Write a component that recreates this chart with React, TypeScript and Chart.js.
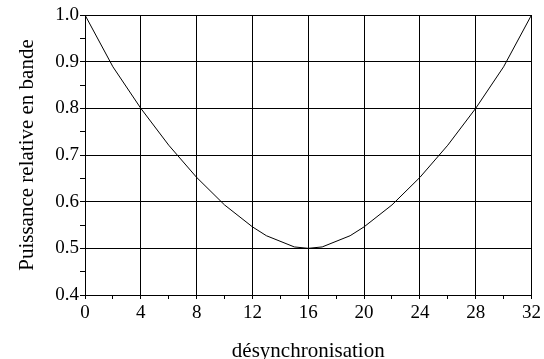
import React, { useEffect, useRef } from "react";
import { Chart, registerables } from "chart.js";

Chart.register(...registerables);

// Desynchronisation values (x) and relative in-band power (y)
const desync = [0, 2, 4, 6, 8, 10, 12, 13, 15, 16, 17, 19, 20, 22, 24, 26, 28, 30, 32];
const power = [1.0, 0.889, 0.8, 0.721, 0.652, 0.593, 0.546, 0.527, 0.503, 0.5, 0.503, 0.527, 0.546, 0.593, 0.652, 0.721, 0.8, 0.889, 1.0];

const xTickLabels = ["0", "4", "8", "12", "16", "20", "24", "28", "32"];
const yTickLabels = ["0.4", "0.5", "0.6", "0.7", "0.8", "0.9", "1.0"];

const xTitle = "désynchronisation";
const yTitle = "Puissance relative en bande";

const FONT = "'Liberation Serif', 'Times New Roman', serif";

export default function App() {
  const canvasRef = useRef<HTMLCanvasElement | null>(null);

  useEffect(() => {
    const canvas = canvasRef.current;
    if (!canvas) return;

    const isMajor = (v: number, step: number) => Math.abs(v / step - Math.round(v / step)) < 1e-6;

    const chart = new Chart(canvas, {
      type: "line",
      data: {
        datasets: [
          {
            data: desync.map((x, i) => ({ x, y: power[i] })),
            borderColor: "#000",
            borderWidth: 1,
            pointRadius: 0,
            tension: 0,
            fill: false,
          },
        ],
      },
      options: {
        animation: false,
        responsive: true,
        maintainAspectRatio: false,
        layout: { padding: { top: 15, right: 10, left: 0, bottom: 0 } },
        plugins: {
          legend: { display: false },
          tooltip: { enabled: false },
        },
        scales: {
          x: {
            type: "linear",
            min: 0,
            max: 32,
            afterFit: (scale: any) => {
              scale.height = 64;
            },
            ticks: {
              stepSize: 2,
              autoSkip: false,
              maxRotation: 0,
              padding: 3,
              color: "#000",
              font: { family: FONT, size: 19 },
              callback: (v: any) => {
                const n = Number(v);
                if (!isMajor(n, 4)) return "";
                return xTickLabels[Math.round(n / 4)] ?? "";
              },
            },
            grid: {
              color: (ctx: any) => (isMajor(ctx.tick?.value ?? 0, 4) ? "#000" : "rgba(0,0,0,0)"),
              tickColor: "#000",
              tickLength: 4,
              lineWidth: 1,
            },
            border: { color: "#000", width: 1 },
            title: {
              display: true,
              text: xTitle,
              color: "#000",
              font: { family: FONT, size: 21, lineHeight: 1 },
              padding: { top: 0, bottom: -3 },
            },
          },
          y: {
            type: "linear",
            min: 0.4,
            max: 1.0,
            afterFit: (scale: any) => {
              scale.width = 85;
            },
            ticks: {
              stepSize: 0.05,
              autoSkip: false,
              padding: 1,
              color: "#000",
              font: { family: FONT, size: 19 },
              callback: (v: any) => {
                const n = Number(v);
                if (!isMajor(n, 0.1)) return "";
                return yTickLabels[Math.round((n - 0.4) / 0.1)] ?? "";
              },
            },
            grid: {
              color: (ctx: any) => (isMajor(ctx.tick?.value ?? 0, 0.1) ? "#000" : "rgba(0,0,0,0)"),
              tickColor: "#000",
              tickLength: 5,
              lineWidth: 1,
            },
            border: { color: "#000", width: 1 },
            title: {
              display: true,
              text: yTitle,
              color: "#000",
              font: { family: FONT, size: 21, lineHeight: 1 },
              padding: { top: 17, bottom: 0 },
            },
          },
        },
      },
    });

    return () => chart.destroy();
  }, []);

  return (
    <div style={{ position: "fixed", left: 0, top: 0, width: 544, height: 359, background: "#fff" }}>
      <canvas ref={canvasRef} />
    </div>
  );
}
